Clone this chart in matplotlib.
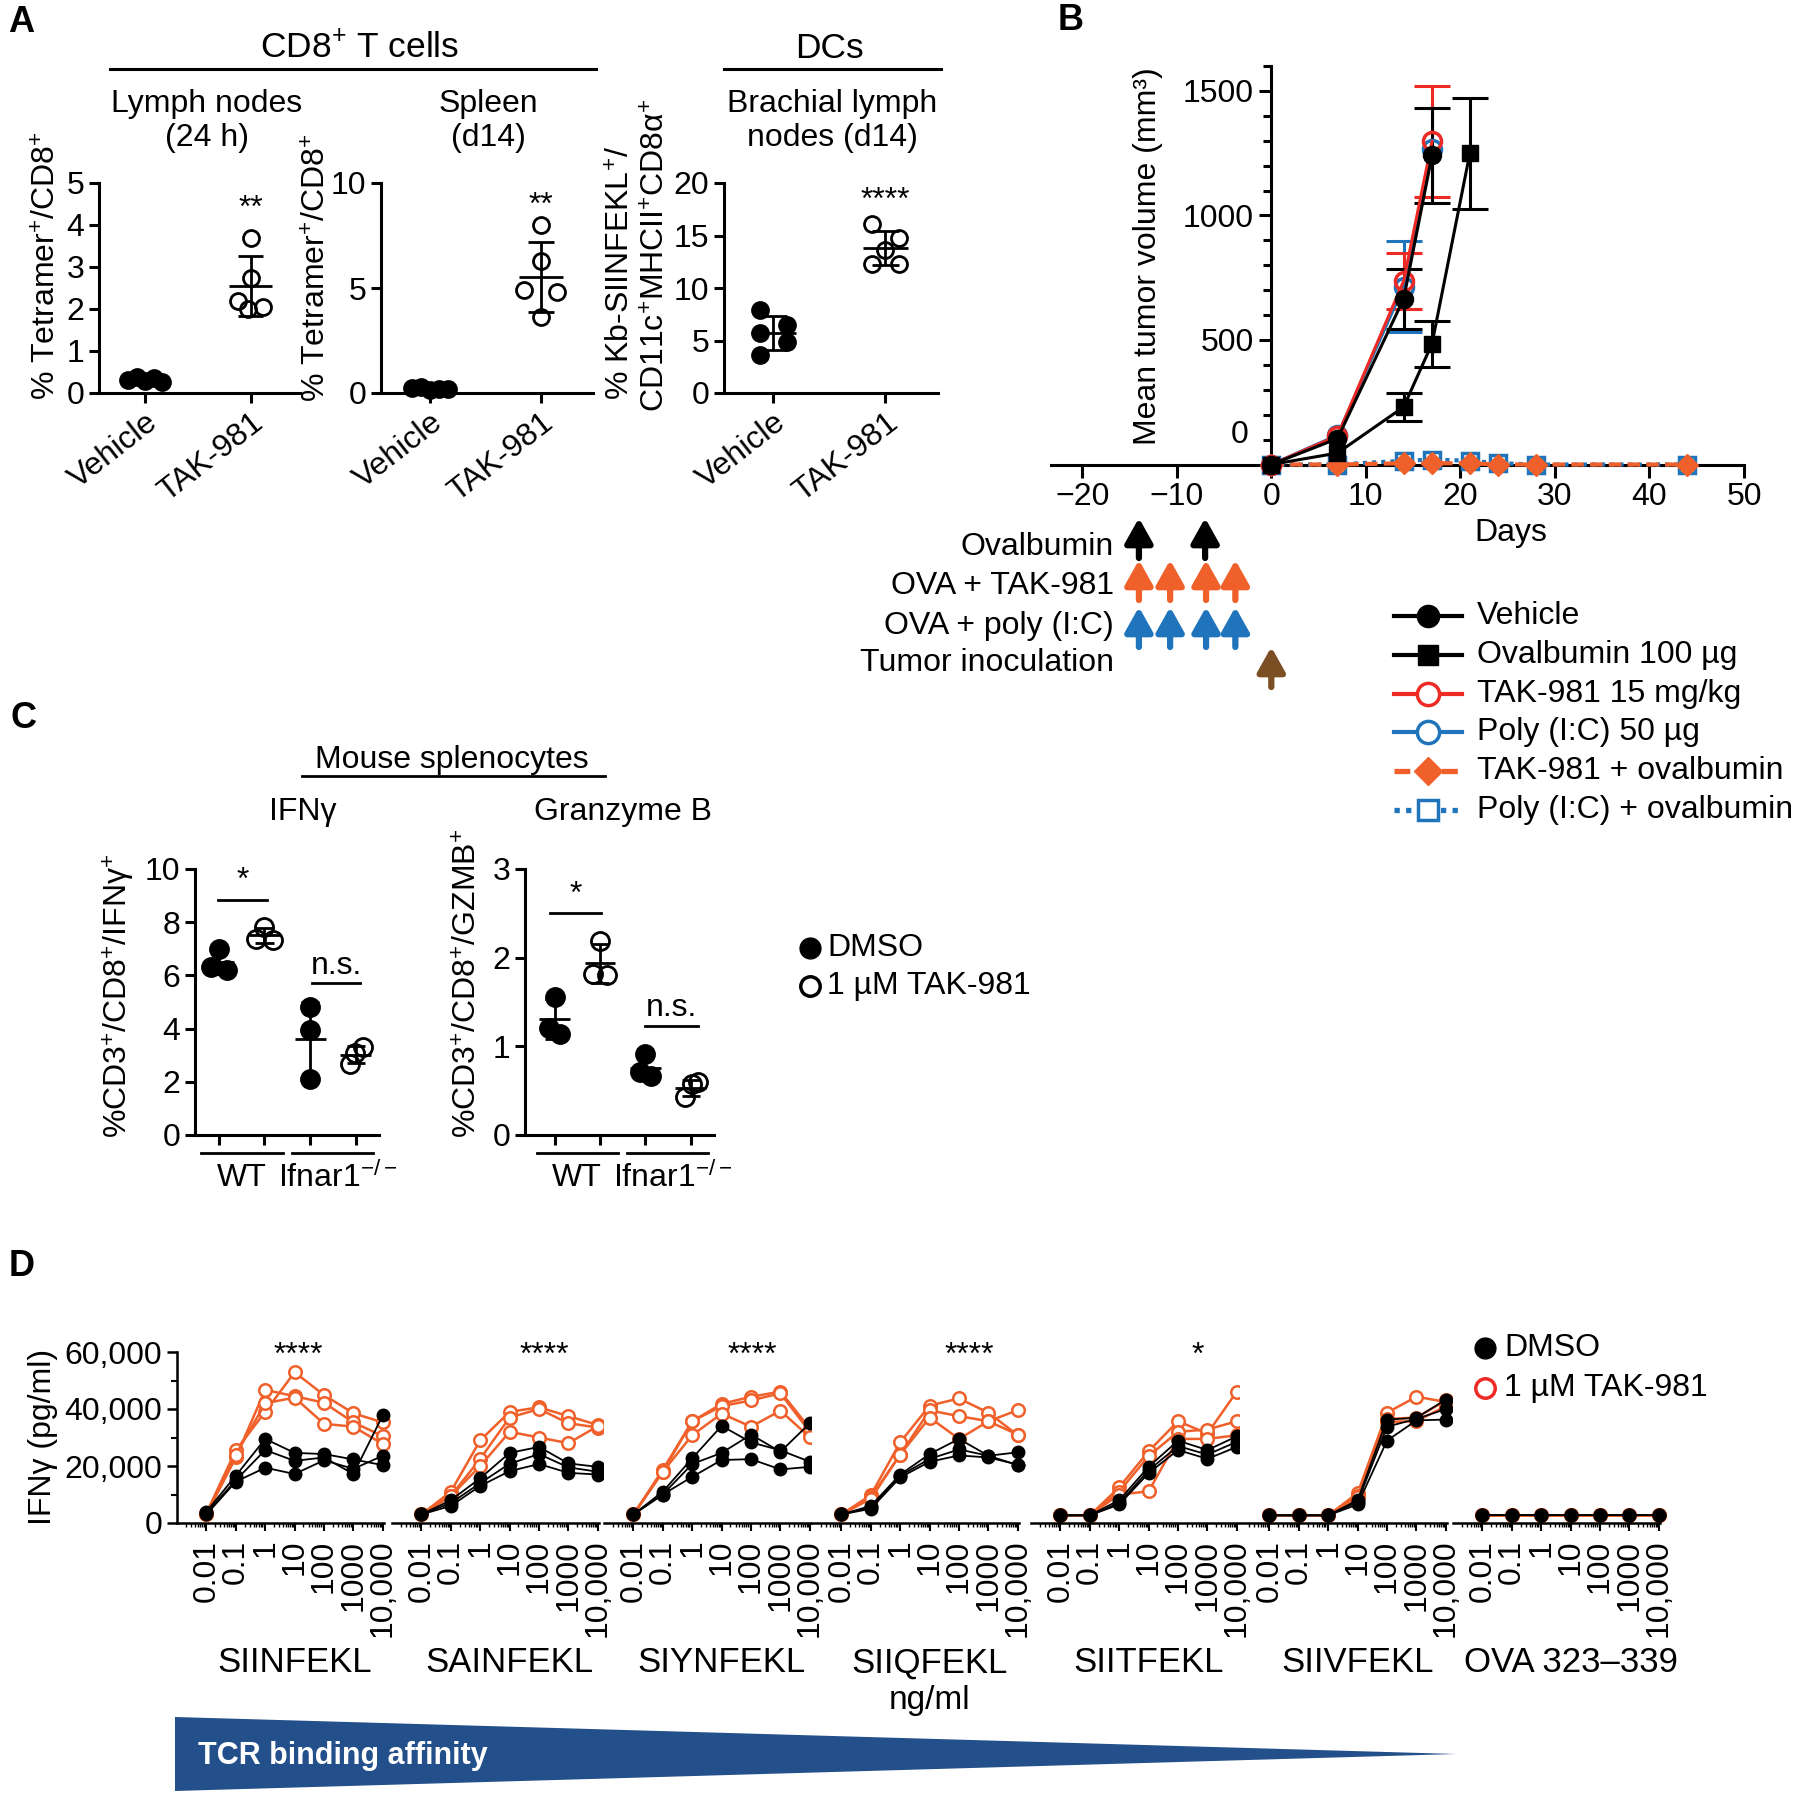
import numpy as np
import matplotlib
matplotlib.use('Agg')
import matplotlib.pyplot as plt
import matplotlib.transforms as mtrans
from matplotlib.lines import Line2D
from matplotlib.patches import Polygon
from matplotlib.ticker import MultipleLocator, LogLocator, NullFormatter, FixedLocator

plt.rcParams['font.family'] = ['Liberation Sans', 'DejaVu Sans']
plt.rcParams['mathtext.fontset'] = 'custom'
plt.rcParams['mathtext.rm'] = 'Liberation Sans'
plt.rcParams['mathtext.it'] = 'Liberation Sans:italic'
plt.rcParams['mathtext.bf'] = 'Liberation Sans:bold'
plt.rcParams['font.size'] = 23
plt.rcParams['axes.linewidth'] = 2.2

BLACK = 'black'
RED = '#ee2a24'
ORANGE = '#f0602a'
BLUE = '#1f74bb'
BROWN = '#7b4f23'
NAVY = '#234f8a'

# ---------------- data ----------------
# A: percent positive cells, 5 mice per group
a_groups = ['Vehicle', 'TAK-981']
a_ln_vehicle = [0.32, 0.38, 0.28, 0.35, 0.27]
a_ln_tak = [3.7, 2.75, 2.2, 2.05, 2.0]
a_spl_vehicle = [0.25, 0.3, 0.15, 0.2, 0.18]
a_spl_tak = [8.0, 6.3, 4.9, 4.8, 3.6]
a_dc_vehicle = [7.9, 6.5, 5.7, 4.9, 3.65]
a_dc_tak = [16.1, 14.8, 13.6, 12.3, 12.3]
a_titles = ['Lymph nodes\n(24 h)', 'Spleen\n(d14)', 'Brachial lymph\nnodes (d14)']
a_stars = ['**', '**', '****']
a_yticks = [[0, 1, 2, 3, 4, 5], [0, 5, 10], [0, 5, 10, 15, 20]]

# B: mean tumor volume (mm3) +/- SEM
b_vehicle_days = [0, 7, 14, 17]
b_vehicle = [0, 104, 665, 1241]
b_vehicle_sem = [0, 0, 119, 191]
b_ova_days = [0, 7, 14, 17, 21]
b_ova = [0, 46, 231, 485, 1249]
b_ova_sem = [0, 0, 56, 93, 224]
b_tak_days = [0, 7, 14, 17]
b_tak = [0, 115, 737, 1297]
b_tak_sem = [0, 0, 112, 222]
b_poly_days = [0, 7, 14, 17]
b_poly = [0, 118, 714, 1265]
b_poly_sem = [0, 0, 182, 0]
b_combo_days = [0, 7, 14, 17, 21, 24, 28, 44]
b_tak_ova = [0, 0, 5, 5, 5, 0, 0, 0]
b_poly_ova = [0, 0, 15, 20, 15, 5, 0, 0]
arrow_rows = ['Ovalbumin', 'OVA + TAK-981', 'OVA + poly (I:C)', 'Tumor inoculation']
arrow_ova_days = [-14, -7]
arrow_tak_days = [-14, -10.7, -6.9, -3.8]
arrow_poly_days = [-14, -10.7, -6.9, -3.8]
arrow_tumor_days = [0]

# C: % of CD3+/CD8+ cells; groups WT DMSO, WT TAK, Ifnar1 DMSO, Ifnar1 TAK
c_ifng = [[6.98, 6.3, 6.2], [7.83, 7.36, 7.33], [4.82, 3.95, 2.1], [3.32, 3.07, 2.67]]
c_gzmb = [[1.56, 1.21, 1.14], [2.19, 1.82, 1.8], [0.91, 0.71, 0.66], [0.6, 0.57, 0.43]]
c_genotypes = ['WT', 'Ifnar1$^{-/-}$']

# D: IFNγ (x1000 pg/ml), three replicates per peptide
d_conc = [0.01, 0.1, 1, 10, 100, 1000, 10000]
d_conc_labels = ['0.01', '0.1', '1', '10', '100', '1000', '10,000']
d_peptides = ['SIINFEKL', 'SAINFEKL', 'SIYNFEKL', 'SIIQFEKL', 'SIITFEKL', 'SIIVFEKL', 'OVA 323–339']
d_sig = ['****', '****', '****', '****', '*', '', '']
d_tak = [
    [[3.5, 25.5, 39.0, 52.9, 44.9, 38.5, 35.3], [3.0, 23.0, 46.7, 44.5, 42.2, 35.3, 30.5],
     [3.0, 24.0, 42.0, 44.0, 34.8, 33.8, 27.7]],
    [[3.0, 11.0, 29.0, 39.0, 40.6, 37.5, 34.4], [3.0, 9.5, 22.5, 37.0, 40.0, 35.0, 33.5],
     [3.0, 9.5, 20.0, 32.0, 30.0, 28.0, 34.0]],
    [[3.0, 18.7, 35.7, 41.8, 44.3, 46.1, 33.2], [3.0, 18.0, 35.7, 41.0, 43.0, 45.5, 32.0],
     [3.0, 18.0, 30.8, 38.4, 33.8, 39.4, 30.1]],
    [[3.0, 9.8, 28.3, 41.2, 43.7, 38.7, 30.8], [3.0, 9.0, 24.0, 39.5, 37.5, 35.7, 39.6],
     [3.0, 8.5, 24.0, 37.0, 29.5, 35.7, 31.0]],
    [[2.7, 2.7, 12.5, 25.2, 35.7, 31.4, 46.1], [2.7, 2.7, 11.0, 23.5, 32.0, 32.8, 35.7],
     [2.7, 2.7, 10.0, 11.1, 29.5, 29.5, 30.8]],
    [[2.7, 2.7, 2.7, 10.5, 38.7, 44.3, 42.5], [2.7, 2.7, 2.7, 9.5, 36.5, 37.0, 43.0],
     [2.7, 2.7, 2.7, 9.0, 35.5, 35.7, 41.0]],
    [[2.7, 2.7, 2.7, 2.7, 2.7, 2.7, 2.7], [2.7, 2.7, 2.7, 2.7, 2.7, 2.7, 2.7],
     [2.7, 2.7, 2.7, 2.7, 2.7, 2.7, 2.7]],
]
d_dmso = [
    [[4.0, 16.6, 29.5, 24.6, 24.2, 22.3, 20.3], [3.5, 15.0, 25.6, 21.8, 23.0, 17.2, 37.8],
     [3.0, 14.5, 19.4, 17.2, 22.0, 19.0, 23.6]],
    [[3.0, 8.0, 15.7, 24.6, 26.7, 20.9, 19.7], [3.0, 7.0, 14.0, 20.8, 24.2, 19.5, 18.0],
     [3.0, 6.0, 13.0, 18.2, 20.7, 17.6, 17.0]],
    [[3.0, 11.0, 22.7, 34.1, 28.3, 25.5, 21.5], [3.0, 10.0, 20.7, 24.6, 31.0, 25.0, 35.0],
     [3.0, 10.0, 16.2, 22.1, 22.4, 18.8, 19.7]],
    [[3.0, 6.0, 17.0, 24.2, 29.5, 23.6, 24.8], [3.0, 5.5, 16.6, 22.5, 25.8, 23.6, 20.3],
     [3.0, 5.0, 16.0, 21.5, 23.7, 23.0, 20.5]],
    [[2.7, 2.7, 8.0, 19.7, 28.9, 25.6, 30.4], [2.7, 2.7, 7.0, 18.5, 27.0, 24.0, 28.5],
     [2.7, 2.7, 6.5, 17.5, 25.6, 22.5, 26.7]],
    [[2.7, 2.7, 2.7, 8.0, 36.3, 36.9, 43.3], [2.7, 2.7, 2.7, 7.4, 33.8, 36.5, 40.0],
     [2.7, 2.7, 2.7, 6.5, 28.9, 36.0, 36.3]],
    [[2.7, 2.7, 2.7, 2.7, 2.7, 2.7, 2.7], [2.7, 2.7, 2.7, 2.7, 2.7, 2.7, 2.7],
     [2.7, 2.7, 2.7, 2.7, 2.7, 2.7, 2.7]],
]

# ---------------- layout helpers (pixel coords, origin top-left) ----------------
W, H = 1800, 1796
fig = plt.figure(figsize=(W / 100, H / 100), dpi=100)
fig.patch.set_facecolor('white')


def fx(x):
    return x / W


def fy(y):
    return 1 - y / H


def box(x0, y0, x1, y1):
    return [fx(x0), fy(y1), (x1 - x0) / W, (y1 - y0) / H]


def ftext(x, y, s, **kw):
    return fig.text(fx(x), fy(y), s, **kw)


def fline(x0, x1, y, lw=2.2, color=BLACK):
    fig.add_artist(Line2D([fx(x0), fx(x1)], [fy(y), fy(y)], transform=fig.transFigure,
                          color=color, lw=lw))


def clean(ax):
    ax.spines['top'].set_visible(False)
    ax.spines['right'].set_visible(False)
    ax.tick_params(direction='out', width=2.2, length=7, labelsize=23)


def dot_group(ax, x, vals, offs, filled, ms, mean_w, cap_w):
    vals = np.asarray(vals, dtype=float)
    m, sd = vals.mean(), vals.std(ddof=1)
    kw = dict(color=BLACK, lw=2, zorder=3, solid_capstyle='butt')
    ax.plot([x - mean_w, x + mean_w], [m, m], **kw)
    ax.plot([x, x], [m - sd, m + sd], **kw)
    ax.plot([x - cap_w, x + cap_w], [m + sd, m + sd], **kw)
    ax.plot([x - cap_w, x + cap_w], [m - sd, m - sd], **kw)
    ax.plot(x + np.asarray(offs), vals, 'o', ms=ms, mfc=BLACK if filled else 'none',
            mec=BLACK, mew=2, zorder=4, clip_on=False)


# panel letters
for lab, x, y in [('A', 8, 22), ('B', 1058, 21), ('C', 10, 719), ('D', 9, 1266)]:
    ftext(x, y, lab, fontsize=26, fontweight='bold', ha='left', va='center')

# ---------------- Panel A ----------------
ftext(360, 48, r'CD8$^{+}$ T cells', ha='center', va='center', fontsize=25.5)
fline(110, 596, 69)
ftext(829, 48, 'DCs', ha='center', va='center', fontsize=25.5)
fline(724, 941, 69)

a_boxes = [(99, 183, 300, 393), (381, 183, 593, 393), (724, 183, 938, 393)]
a_title_x = [207, 488, 832]
a_star_y = [217, 214, 209]
a_data = [(a_ln_vehicle, a_ln_tak), (a_spl_vehicle, a_spl_tak), (a_dc_vehicle, a_dc_tak)]
a_offsets = [([-0.16, -0.08, 0, 0.08, 0.16], [0, 0, -0.12, 0.12, -0.02]),
             ([-0.16, -0.08, 0, 0.08, 0.16], [0, 0, -0.15, 0.15, 0]),
             ([-0.12, 0.12, -0.12, 0.12, -0.12], [-0.12, 0.12, 0, -0.12, 0.12])]

for i in range(3):
    ax = fig.add_axes(box(*a_boxes[i]))
    veh, tak = a_data[i]
    dot_group(ax, 0, veh, a_offsets[i][0], True, 11.5, 0.2, 0.12)
    dot_group(ax, 1, tak, a_offsets[i][1], False, 11.5, 0.2, 0.12)
    ax.set_xlim(-0.44, 1.47)
    ax.set_ylim(0, a_yticks[i][-1])
    ax.set_yticks(a_yticks[i])
    ax.set_xticks([0, 1])
    ax.set_xticklabels(a_groups, rotation=38, ha='right', va='top', rotation_mode='anchor')
    clean(ax)
    tr = mtrans.blended_transform_factory(ax.transData, fig.transFigure)
    ax.text(1, fy(a_star_y[i]), a_stars[i], transform=tr, ha='center', va='baseline')
    ftext(a_title_x[i], 121, a_titles[i], ha='center', va='center')

ftext(48, 400, r'% Tetramer$^{+}$/CD8$^{+}$', rotation=90, ha='center', va='bottom')
ftext(318, 402, r'% Tetramer$^{+}$/CD8$^{+}$', rotation=90, ha='center', va='bottom')
ftext(622, 400, r'% Kb-SIINFEKL$^{+}$/', rotation=90, ha='center', va='bottom')
ftext(657, 412, r'CD11c$^{+}$MHCII$^{+}$CD8α$^{+}$', rotation=90, ha='center', va='bottom')

# ---------------- Panel B ----------------
axb = fig.add_axes(box(1051, 66, 1744, 464.5))
# (label, values, days, sem, style) -- drawn back to front
b_series = [
    ('Poly (I:C) + ovalbumin', b_poly_ova, b_combo_days, None,
     dict(color=BLUE, ls=(0, (1, 1.2)), lw=3, marker='s', ms=12, mfc='none', mec=BLUE, mew=2.5)),
    ('TAK-981 + ovalbumin', b_tak_ova, b_combo_days, None,
     dict(color=ORANGE, ls=(0, (3, 1.5)), lw=3, marker='D', ms=11, mfc=ORANGE, mec=ORANGE, mew=1)),
    ('Poly (I:C) 50 µg', b_poly, b_poly_days, b_poly_sem,
     dict(color=BLUE, ls='-', lw=2.2, marker='o', ms=13, mfc='none', mec=BLUE, mew=2.5)),
    ('TAK-981 15 mg/kg', b_tak, b_tak_days, b_tak_sem,
     dict(color=RED, ls='-', lw=2.2, marker='o', ms=13, mfc='none', mec=RED, mew=2.5)),
    ('Vehicle', b_vehicle, b_vehicle_days, b_vehicle_sem,
     dict(color=BLACK, ls='-', lw=2.2, marker='o', ms=13, mfc=BLACK, mec=BLACK)),
    ('Ovalbumin 100 µg', b_ova, b_ova_days, b_ova_sem,
     dict(color=BLACK, ls='-', lw=2.2, marker='s', ms=12, mfc=BLACK, mec=BLACK)),
]
for lab, vals, days, sem, st in b_series:
    if sem is not None:
        idx = [k for k, s in enumerate(sem) if s > 0]
        axb.errorbar([days[k] for k in idx], [vals[k] for k in idx], yerr=[sem[k] for k in idx],
                     fmt='none', ecolor=st['color'], elinewidth=2.2, capsize=13, capthick=2.2, zorder=2)
    axb.plot(days, vals, clip_on=False, zorder=3, **st)

axb.set_xlim(-23.3, 50)
axb.set_ylim(0, 1600)
axb.spines['left'].set_position(('data', 0))
clean(axb)
axb.set_xticks(range(-20, 51, 10))
axb.set_yticks([500, 1000, 1500])
axb.yaxis.set_minor_locator(MultipleLocator(100))
axb.tick_params(axis='both', which='major', length=9, width=2.2)
axb.tick_params(axis='y', which='minor', length=6, width=2.2)
axb.text(-2.4, 117, '0', ha='right', va='center')
ftext(1148, 256, 'Mean tumor volume (mm³)', rotation=90, ha='center', va='center')
ftext(1511, 533, 'Days', ha='center', va='center')

# dosing schedule arrows
trb = mtrans.blended_transform_factory(axb.transData, fig.transFigure)
arrow_sets = [(arrow_ova_days, BLACK, 518, 558), (arrow_tak_days, ORANGE, 560, 600),
              (arrow_poly_days, BLUE, 607, 647), (arrow_tumor_days, BROWN, 647, 687)]
for days, col, ytip, ybase in arrow_sets:
    for d in days:
        axb.annotate('', xy=(d, fy(ytip)), xytext=(d, fy(ybase)), xycoords=trb, textcoords=trb,
                     annotation_clip=False,
                     arrowprops=dict(arrowstyle='-|>,head_length=0.75,head_width=0.42', color=col,
                                     lw=4.5, shrinkA=0, shrinkB=0, mutation_scale=20))
for lab, y in zip(arrow_rows, [547, 586, 626, 663]):
    ftext(1114, y, lab, ha='right', va='center')

# legend for B
leg_order = [4, 5, 3, 2, 1, 0]
for row, k in enumerate(leg_order):
    lab, vals, days, sem, st = b_series[k]
    y = 616 + 38.8 * row
    fig.add_artist(Line2D([fx(1394), fx(1462)], [fy(y), fy(y)], transform=fig.transFigure,
                          color=st['color'], ls=st['ls'], lw=st['lw'] + 0.8))
    mk = dict(st)
    for key in ('color', 'ls', 'lw'):
        mk.pop(key)
    mk['ms'] = mk['ms'] + 3
    if mk['mfc'] == 'none':
        mk['mfc'] = 'white'
    fig.add_artist(Line2D([fx(1428)], [fy(y)], transform=fig.transFigure, ls='none', **mk))
    ftext(1477, y, lab, ha='left', va='center')

# ---------------- Panel C ----------------
ftext(452, 760, 'Mouse splenocytes', ha='center', va='center')
fline(302, 605, 776, lw=2)
ftext(303, 812, 'IFNγ', ha='center', va='center')
ftext(623, 812, 'Granzyme B', ha='center', va='center')

c_panels = [
    (c_ifng, (195, 869, 379, 1135), (-0.52, 3.51), 10, [0, 2, 4, 6, 8, 10],
     [[0, -0.18, 0.18], [0, -0.18, 0.18], [0, 0, 0], [0.15, -0.02, -0.12]],
     [(-0.02, 1.05, 8.83, '*', 9.25), (2.05, 3.1, 5.7, 'n.s.', 6.05)],
     r'%CD3$^{+}$/CD8$^{+}$/IFNγ$^{+}$', 119),
    (c_gzmb, (525, 869, 714, 1135), (-0.65, 3.51), 3, [0, 1, 2, 3],
     [[0, -0.12, 0.12], [0, -0.15, 0.15], [0, -0.12, 0.12], [0.15, 0.02, -0.12]],
     [(-0.1, 1.03, 2.5, '*', 2.62), (2.0, 3.15, 1.23, 'n.s.', 1.34)],
     r'%CD3$^{+}$/CD8$^{+}$/GZMB$^{+}$', 469),
]
c_filled = [True, False, True, False]
for vals, bx, xl, ymax, yt, offs, sigs, ylab, ylab_x in c_panels:
    ax = fig.add_axes(box(*bx))
    for g in range(4):
        dot_group(ax, g, vals[g], offs[g], c_filled[g], 13, 0.34, 0.2)
    ax.set_xlim(*xl)
    ax.set_ylim(0, ymax)
    ax.set_yticks(yt)
    ax.set_xticks([0, 1, 2, 3])
    ax.set_xticklabels([])
    clean(ax)
    for x0, x1, yl, s, ys in sigs:
        ax.plot([x0, x1], [yl, yl], color=BLACK, lw=2)
        ax.text((x0 + x1) / 2, ys, s, ha='center', va='baseline')
    trc = mtrans.blended_transform_factory(ax.transData, fig.transFigure)
    for (g0, g1), lab, cx in zip([(-0.38, 1.4), (1.6, 3.38)], c_genotypes, [0.5, 2.6]):
        ax.plot([g0, g1], [fy(1153), fy(1153)], transform=trc, color=BLACK, lw=2, clip_on=False)
        ax.text(cx, fy(1178), lab, transform=trc, ha='center', va='center')
    ftext(ylab_x, 1138, ylab, rotation=90, ha='center', va='bottom')

fig.add_artist(Line2D([fx(810)], [fy(948)], transform=fig.transFigure, marker='o', ms=15,
                      mfc=BLACK, mec=BLACK, ls='none'))
fig.add_artist(Line2D([fx(810)], [fy(986)], transform=fig.transFigure, marker='o', ms=14,
                      mfc='none', mec=BLACK, mew=2.5, ls='none'))
ftext(827, 948, 'DMSO', ha='left', va='center')
ftext(827, 986, '1 µM TAK-981', ha='left', va='center')

# ---------------- Panel D ----------------
d_starts = [177, 392, 604, 812, 1031, 1240, 1453]
d_width = 207
d_top, d_bot = 1352, 1523
d_star_x = [13, 150, 110, 220, 450]
for i, s in enumerate(d_starts):
    ax = fig.add_axes(box(s, d_top, s + d_width, d_bot))
    for rep in d_tak[i]:
        ax.plot(d_conc, np.asarray(rep) * 1000, '-o', color=ORANGE, lw=1.8, ms=9, mfc='white',
                mec=ORANGE, mew=1.8, zorder=2, clip_on=False)
    for rep in d_dmso[i]:
        ax.plot(d_conc, np.asarray(rep) * 1000, '-o', color=BLACK, lw=1.3, ms=9, mfc=BLACK,
                mec=BLACK, zorder=3, clip_on=False)
    ax.set_xscale('log')
    ax.set_xlim(10 ** -3.0, 10 ** 4.04)
    ax.set_ylim(0, 60000)
    ax.xaxis.set_major_locator(FixedLocator(d_conc))
    ax.xaxis.set_minor_locator(LogLocator(base=10, subs=np.arange(2, 10), numticks=30))
    ax.xaxis.set_minor_formatter(NullFormatter())
    ax.set_xticklabels(d_conc_labels, rotation=90)
    ax.spines['top'].set_visible(False)
    ax.spines['right'].set_visible(False)
    ax.spines['bottom'].set_linewidth(1.8)
    ax.tick_params(axis='x', which='major', direction='out', length=6, width=1.5, labelsize=23, pad=6)
    ax.tick_params(axis='x', which='minor', direction='out', length=3, width=1)
    if i == 0:
        ax.spines['left'].set_linewidth(1.8)
        ax.set_yticks([0, 20000, 40000, 60000])
        ax.set_yticklabels(['0', '20,000', '40,000', '60,000'])
        ax.yaxis.set_minor_locator(MultipleLocator(10000))
        ax.tick_params(axis='y', which='major', direction='out', length=7, width=1.8, labelsize=23)
        ax.tick_params(axis='y', which='minor', direction='out', length=4, width=1.5)
    else:
        ax.spines['left'].set_visible(False)
        ax.set_yticks([])
    trd = mtrans.blended_transform_factory(ax.transData, fig.transFigure)
    if d_sig[i]:
        ax.text(d_star_x[i], fy(1364), d_sig[i], transform=trd, ha='center', va='baseline')
    ax.text(10, fy(1663), d_peptides[i], transform=trd, ha='center', va='center', fontsize=25)
    if i == 3:
        ax.text(10, fy(1701), 'ng/ml', transform=trd, ha='center', va='center', fontsize=24)

ftext(43, 1437, 'IFNγ (pg/ml)', rotation=90, ha='center', va='center')

fig.add_artist(Line2D([fx(1485)], [fy(1348)], transform=fig.transFigure, marker='o', ms=15,
                      mfc=BLACK, mec=BLACK, ls='none'))
fig.add_artist(Line2D([fx(1485)], [fy(1388)], transform=fig.transFigure, marker='o', ms=14,
                      mfc='none', mec=RED, mew=2.5, ls='none'))
ftext(1504, 1348, 'DMSO', ha='left', va='center')
ftext(1504, 1388, '1 µM TAK-981', ha='left', va='center')

# affinity wedge
wedge = Polygon([(fx(175), fy(1717)), (fx(1456), fy(1754)), (fx(175), fy(1791))],
                closed=True, transform=fig.transFigure, facecolor=NAVY, edgecolor='none')
fig.add_artist(wedge)
ftext(198, 1756, 'TCR binding affinity', ha='left', va='center', color='white',
      fontweight='bold', fontsize=22)

fig.savefig('out.png', dpi=100, facecolor='white')
